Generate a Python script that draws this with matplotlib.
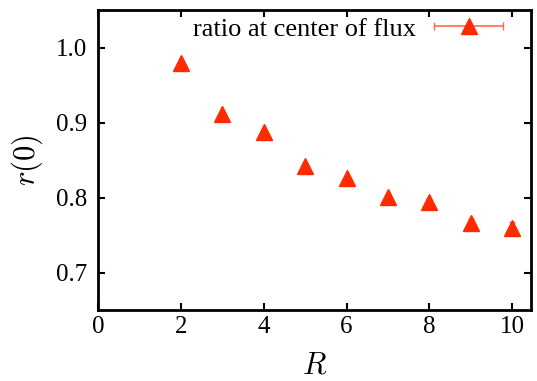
import numpy as np
import matplotlib.pyplot as plt
from matplotlib.container import ErrorbarContainer
from matplotlib.legend_handler import HandlerErrorbar

plt.rcParams['font.family'] = ['Liberation Serif', 'DejaVu Serif']
plt.rcParams['mathtext.fontset'] = 'cm'

R = [2, 3, 4, 5, 6, 7, 8, 9, 10]
r0 = [0.980, 0.912, 0.887, 0.842, 0.826, 0.801, 0.794, 0.766, 0.759]
err = [0.002, 0.002, 0.002, 0.002, 0.002, 0.003, 0.003, 0.006, 0.009]

col = '#ff2a00'
ecol = '#ff6a50'

fig = plt.figure(figsize=(5.37, 3.81), dpi=100)
ax = fig.add_axes([98/537, 1-310/381, (531-98)/537, (310-10)/381])

ax.errorbar(R, r0, yerr=err, fmt='^', color=col, ms=11, ecolor=ecol,
            elinewidth=1, capsize=2)
# proxy for gnuplot-like key sample (horizontal bar with caps)
proxy = ax.errorbar([np.nan], [np.nan], xerr=[1], fmt='^', color=col, ms=11,
                    ecolor=ecol, elinewidth=1.2, capsize=3,
                    label='ratio at center of flux')

ax.set_xlim(0, 10.45)
ax.set_ylim(0.65, 1.05)
ax.set_xticks([0, 2, 4, 6, 8, 10])
ax.set_yticks([0.7, 0.8, 0.9, 1.0])
ax.set_yticklabels(['0.7', '0.8', '0.9', '1.0'])
ax.tick_params(direction='in', top=True, right=True, length=5, width=1.5, labelsize=18)
ax.tick_params(axis='x', pad=4)
ax.tick_params(axis='y', pad=8)
for s in ax.spines.values():
    s.set_linewidth(2)
ax.set_xlabel('$R$', fontsize=22, labelpad=10)
ax.set_ylabel('$r(0)$', fontsize=22, labelpad=8)
ax.legend(handles=[proxy], loc='upper right', bbox_to_anchor=(0.966, 1.011),
          frameon=False, markerfirst=False, fontsize=19, handlelength=2.8,
          borderaxespad=0, handletextpad=0.6,
          handler_map={ErrorbarContainer: HandlerErrorbar(xerr_size=1.3)})

plt.savefig('out.png', dpi=100)
